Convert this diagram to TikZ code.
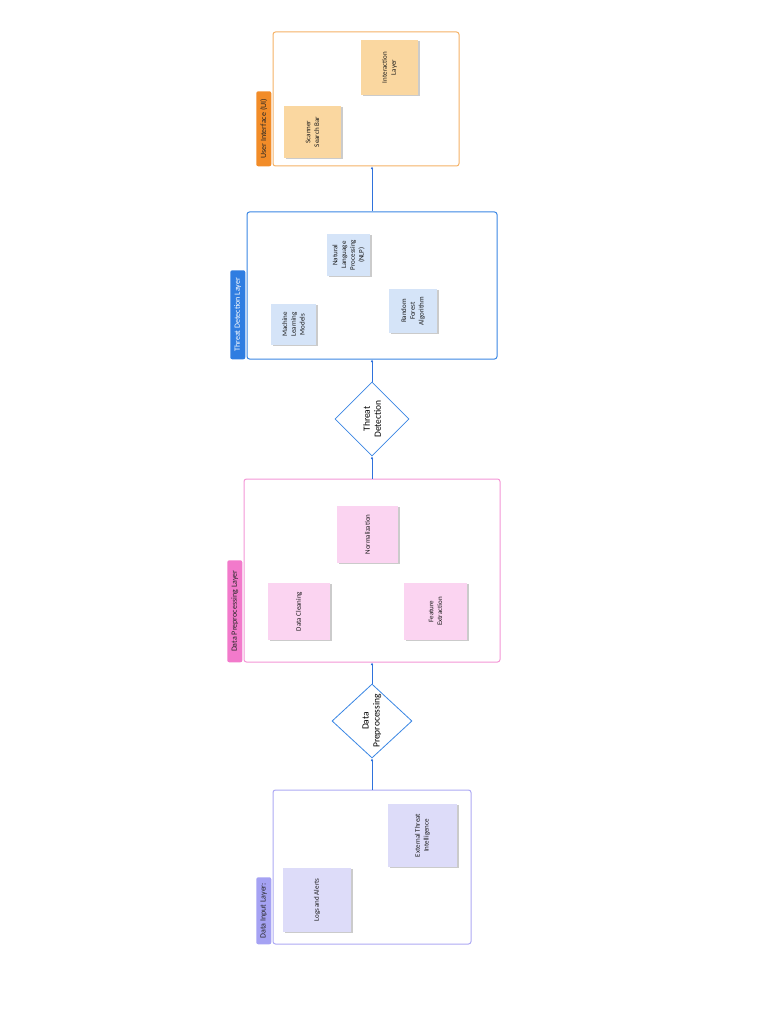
\documentclass[tikz,border=0pt]{standalone}
\usepackage{fontspec}
\setmainfont{Carlito}
\usetikzlibrary{arrows.meta, positioning, shapes.geometric, shadows}

\definecolor{uiline}{HTML}{F5B266}
\definecolor{uitag}{HTML}{F28C28}
\definecolor{uinote}{HTML}{FAD7A0}
\definecolor{tdline}{HTML}{3A86E4}
\definecolor{tdtag}{HTML}{2F7DE1}
\definecolor{tdnote}{HTML}{D5E4F8}
\definecolor{dpline}{HTML}{F496D6}
\definecolor{dptag}{HTML}{F27ACB}
\definecolor{dpnote}{HTML}{FBD4F1}
\definecolor{diline}{HTML}{ADA9F4}
\definecolor{ditag}{HTML}{A5A2F3}
\definecolor{dinote}{HTML}{DDDCF9}
\definecolor{flow}{HTML}{2F72DC}

\begin{document}
\begin{tikzpicture}[
  x=1pt, y=-1pt,
  font=\fontsize{7}{8.8}\selectfont,
  layer/.style={rectangle, rounded corners=2.5pt, line width=1pt, fill=white, inner sep=0pt},
  tag/.style={rectangle, rounded corners=2pt, rotate=90, anchor=south west,
              minimum height=15pt, inner sep=0pt, font=\fontsize{8}{9}\selectfont},
  note/.style={rectangle, rotate=90, inner sep=1pt, align=center, text=black!90,
               drop shadow={shadow xshift=1.6pt, shadow yshift=-1.2pt, fill=black!45, opacity=0.45}},
  gate/.style={diamond, draw=tdline, line width=0.8pt, fill=white, rotate=90, inner sep=0pt,
               align=center, font=\fontsize{9.5}{11}\selectfont},
  e/.style={-{Latex[length=2.6pt, width=2.6pt]}, draw=flow, line width=0.8pt}
]
\useasboundingbox (0,0) rectangle (768,1024);

% ---------------------------------------------- user interface
\node[layer, draw=uiline, minimum width=186pt, minimum height=134pt] (uibox) at (366, 99) {};
\node[tag, fill=uitag, text=black!85, minimum width=75pt] (uitag) at ([xshift=-1pt]uibox.south west) {User Interface (UI)};
\node[note, fill=uinote, minimum width=55pt, minimum height=57pt] (interact) at (389.5, 67.5) {Interaction\\Layer};
\node[note, fill=uinote, minimum width=52pt, minimum height=57pt] (scanner) at (312.5, 132) {Scanner\\Search Bar};

% ---------------------------------------------- threat detection
\node[layer, draw=tdline, minimum width=250pt, minimum height=147pt] (tdbox) at (372, 285.5) {};
\node[tag, fill=tdtag, text=white, minimum width=89pt] (tdtag) at ([xshift=-1pt]tdbox.south west) {Threat Detection Layer};
\node[note, fill=tdnote, minimum width=42pt, minimum height=43pt] (nlp) at (348.5, 255) {Natural\\Language\\Processing\\(NLP)};
\node[note, fill=tdnote, minimum width=41pt, minimum height=45pt] (mlmodels) at (293.5, 324.5) {Machine\\Learning\\Models};
\node[note, fill=tdnote, minimum width=44pt, minimum height=48pt] (forest) at (413, 311) {Random\\Forest\\Algorithm};

\node[gate, minimum width=74pt, minimum height=74pt] (tdgate) at (372, 419) {Threat\\Detection};

% ---------------------------------------------- data preprocessing
\node[layer, draw=dpline, minimum width=256pt, minimum height=183pt] (dpbox) at (372, 570.5) {};
\node[tag, fill=dptag, text=black!85, minimum width=102pt] (dptag) at ([xshift=-1pt]dpbox.south west) {Data Preprocessing Layer};
\node[note, fill=dpnote, minimum width=57pt, minimum height=61pt] (normal) at (367.5, 534.5) {Normalization};
\node[note, fill=dpnote, minimum width=57pt, minimum height=62pt] (cleaning) at (299, 611.5) {Data Cleaning};
\node[note, fill=dpnote, minimum width=57pt, minimum height=63pt] (features) at (435.5, 611.5) {Feature\\Extraction};

\node[gate, minimum width=74pt, minimum height=80pt] (dpgate) at (372, 721) {Data\\Preprocessing};

% ---------------------------------------------- data input
\node[layer, draw=diline, minimum width=198pt, minimum height=154pt] (dibox) at (372, 867) {};
\node[tag, fill=ditag, text=black!85, minimum width=67pt] (ditag) at ([xshift=-1pt]dibox.south west) {Data Input Layer:};
\node[note, fill=dinote, minimum width=64pt, minimum height=68pt] (logs) at (317, 900) {Logs and Alerts};
\node[note, fill=dinote, minimum width=63pt, minimum height=69pt] (external) at (422.5, 835.5) {External Threat\\Intelligence};

% ---------------------------------------------- flow
\draw[e] (dibox.north) -- (dpgate.west);
\draw[e] (dpgate.east) -- (dpbox.south);
\draw[e] (dpbox.north) -- (tdgate.west);
\draw[e] (tdgate.east) -- (tdbox.south);
\draw[e] (tdbox.north) -- (tdbox.north |- uibox.south);

\end{tikzpicture}
\end{document}
